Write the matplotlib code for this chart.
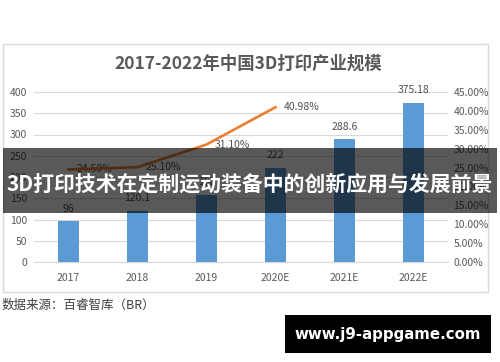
import matplotlib
matplotlib.use("Agg")
import matplotlib.pyplot as plt
from matplotlib.patches import Rectangle

plt.rcParams['font.family'] = ['Noto Sans CJK SC', 'DejaVu Sans']

categories = ["2017", "2018", "2019", "2020E", "2021E", "2022E"]
market_size = [96, 120.1, 158, 222, 288.6, 375.18]
size_labels = ["96", "120.1", "158", "222", "288.6", "375.18"]
growth = [24.50, 25.10, 31.10, 40.98]
left_ticks = [0, 50, 100, 150, 200, 250, 300, 350, 400]
right_ticks = [0, 5, 10, 15, 20, 25, 30, 35, 40, 45]

W, H = 500, 362
fig = plt.figure(figsize=(W / 100, H / 100), dpi=100)
fig.patch.set_facecolor("white")

def fx(px):
    return px / W

def fy(py):
    return 1 - py / H

# chart frame
fig.add_artist(Rectangle((fx(3), fy(292)), fx(485), 248 / H, fill=False,
                         edgecolor="#D9D9D9", lw=1, transform=fig.transFigure, zorder=0))

ax = fig.add_axes([fx(34), fy(262), fx(414), 170 / H])
x = list(range(len(categories)))
ax.bar(x, market_size, width=0.31, color="#5B9BD5", zorder=3)
ax.set_xlim(-0.5, 5.5)
ax.set_ylim(0, 400)
ax.set_yticks(left_ticks)
ax.set_xticks(x)
ax.set_xticklabels(categories)
ax.yaxis.grid(True, color="#D9D9D9", lw=0.8, zorder=0)
ax.set_axisbelow(True)
for s in ["top", "left", "right"]:
    ax.spines[s].set_visible(False)
ax.spines["bottom"].set_color("#D9D9D9")
ax.tick_params(axis="both", length=0, labelsize=7.5, labelcolor="#595959")
ax.tick_params(axis="y", pad=5)
ax.tick_params(axis="x", pad=8)
ax.set_facecolor("none")

for xi, v, lab in zip(x, market_size, size_labels):
    ax.annotate(lab, (xi, v), xytext=(0, 9), textcoords="offset points",
                ha="center", va="center", fontsize=7.5, color="#505050")

ax2 = ax.twinx()
ax2.set_ylim(0, 45)
ax2.set_yticks(right_ticks)
ax2.set_yticklabels([f"{t:.2f}%" for t in right_ticks])
for s in ["top", "left", "right", "bottom"]:
    ax2.spines[s].set_visible(False)
ax2.tick_params(axis="y", length=0, labelsize=7.5, labelcolor="#595959", pad=4)
gx = x[:len(growth)]
ax2.plot(gx, growth, color="#ED7D31", lw=1.9, zorder=4)
for xi, g in zip(gx, growth):
    ax2.annotate(f"{g:.2f}%", (xi, g), xytext=(6, 0), textcoords="offset points",
                 ha="left", va="center", fontsize=7.5, color="#505050")

fig.text(fx(248), fy(64), "2017-2022年中国3D打印产业规模", ha="center", va="center",
         fontsize=12.5, fontweight="bold", color="#595959")

fig.text(fx(2), fy(305), "数据来源：百睿智库（BR）", ha="left", va="center",
         fontsize=9, color="#404040")

# overlay band
fig.add_artist(Rectangle((fx(3), fy(213)), fx(494), 65 / H, facecolor="black",
                         alpha=0.65, edgecolor="none", transform=fig.transFigure, zorder=10))
fig.text(0.5, fy(184), "3D打印技术在定制运动装备中的创新应用与发展前景", ha="center",
         va="center", fontsize=15, fontweight="bold", color="white", zorder=11)

# black box
fig.add_artist(Rectangle((fx(285), fy(353)), fx(206), 38 / H, facecolor="black",
                         edgecolor="none", transform=fig.transFigure, zorder=10))
fig.text(fx(388), fy(335), "www.j9-appgame.com", ha="center", va="center",
         fontsize=10.8, fontweight="bold", color="white", family="DejaVu Sans", zorder=11)

fig.savefig("out.png", dpi=100)
